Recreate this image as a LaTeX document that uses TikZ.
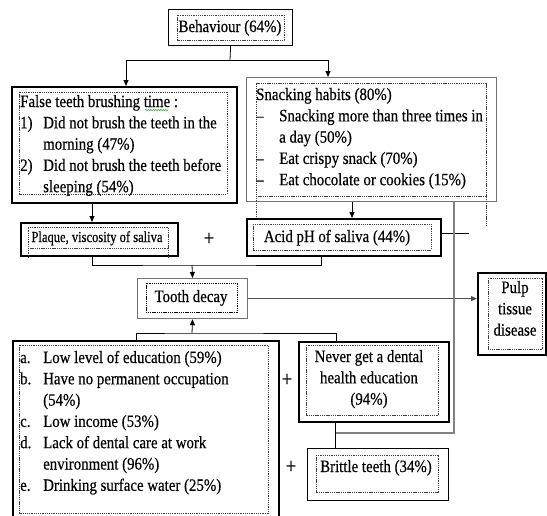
\documentclass[tikz,border=0pt]{standalone}
\usepackage{fontspec}
\setmainfont{Liberation Serif}[FakeStretch=0.86,FakeBold=0.4]
\newfontfamily\plqfont{Liberation Serif}[FakeStretch=0.82,FakeBold=0.4]
\usetikzlibrary{arrows.meta,decorations.pathmorphing}
\begin{document}
\begin{tikzpicture}[x=1pt,y=-1pt,
  obox/.style={draw=black, line width=1.5pt, inner sep=0pt, anchor=north west},
  gbox/.style={draw=black!55, line width=1.2pt, inner sep=0pt, anchor=north west},
  ibox/.style={draw=black!75, line width=0.6pt, dash pattern=on 1.3pt off 0.9pt},
  txt/.style={anchor=base west, inner sep=0pt, font=\fontsize{17.3}{21.3}\selectfont},
  ctxt/.style={anchor=base, inner sep=0pt, align=center, font=\fontsize{17.3}{21.3}\selectfont},
  plus/.style={inner sep=0pt, font=\fontsize{22}{22}\selectfont},
  conn/.style={draw=black, line width=0.8pt},
  gconn/.style={draw=black!50, line width=1.1pt},
  arr/.style={conn, -{Triangle[length=6pt,width=5pt]}},
]
\useasboundingbox (0,0) rectangle (547,515);
\fill[white] (0,0) rectangle (547,515);

% ---------- boxes ----------
\node[obox, line width=1.2pt, minimum width=124pt, minimum height=36pt] (beh) at (168,9) {};
\draw[ibox] (177,15) rectangle (284,40);
\node[ctxt] (beht) at (230,32) {Behaviour (64\%)};

\node[obox, minimum width=225pt, minimum height=116pt] (ftb) at (11,86) {};
\draw[ibox] (19,92) rectangle (227,194);
\node[txt] (ftbt) at (20,107) {\begin{tabular}[t]{@{}l@{}l@{}}
\multicolumn{2}{@{}l@{}}{False teeth brushing time :}\\
\makebox[23pt][l]{1)} & Did not brush the teeth in the\\
 & morning (47\%)\\
\makebox[23pt][l]{2)} & Did not brush the teeth before\\
 & sleeping (54\%)
\end{tabular}};

\node[gbox, minimum width=250pt, minimum height=124pt] (snk) at (246,77) {};
\draw[ibox] (256,217) -- (256,83) -- (486,83) -- (486,227);
\draw[ibox] (256,196) -- (486,196);
\node[txt] (snkt) at (256,100) {\begin{tabular}[t]{@{}l@{}l@{}}
\multicolumn{2}{@{}l@{}}{Snacking habits (80\%)}\\
\makebox[23pt][l]{--} & Snacking more than three times in\\
 & a day (50\%)\\
\makebox[23pt][l]{--} & Eat crispy snack (70\%)\\
\makebox[23pt][l]{--} & Eat chocolate or cookies (15\%)
\end{tabular}};

\node[obox, minimum width=157pt, minimum height=33pt] (plq) at (20,222) {};
\draw[ibox] (28,258) -- (28,227) -- (168,227) -- (168,258);
\draw[ibox] (28,248) -- (168,248);
\node[anchor=base, inner sep=0pt, font=\plqfont\fontsize{15.3}{16}\selectfont] (plqt) at (97,242) {Plaque, viscosity of saliva};

\node[plus] (p1) at (209,239) {+};

\node[obox, minimum width=194pt, minimum height=37pt] (acid) at (246,218) {};
\draw[ibox] (253,224) rectangle (431,250);
\node[ctxt] (acidt) at (337,242) {Acid pH of saliva (44\%)};

\node[gbox, minimum width=110pt, minimum height=40pt] (tooth) at (137,278) {};
\draw[ibox, draw=black, line width=0.8pt] (146,283) rectangle (237,312);
\node[ctxt] (tootht) at (191,302) {Tooth decay};

\node[obox, minimum width=68pt, minimum height=82pt] (pulp) at (477,272) {};
\draw[ibox] (488,278) rectangle (542,349);
\node[ctxt] (pulpt) at (515,293) {\begin{tabular}[t]{@{}c@{}}Pulp\\ tissue\\ disease\end{tabular}};

\node[obox, minimum width=266pt, minimum height=180pt] (soc) at (12,340) {};
\draw[ibox] (19,345) rectangle (268,513);
\node[txt] (soct) at (20,363) {\begin{tabular}[t]{@{}l@{}l@{}}
\makebox[23pt][l]{a.} & Low level of education (59\%)\\
\makebox[23pt][l]{b.} & Have no permanent occupation\\
 & (54\%)\\
\makebox[23pt][l]{c.} & Low income (53\%)\\
\makebox[23pt][l]{d.} & Lack of dental care at work\\
 & environment (96\%)\\
\makebox[23pt][l]{e.} & Drinking surface water (25\%)
\end{tabular}};

\node[plus] (p2) at (287,380) {+};

\node[obox, minimum width=150pt, minimum height=80pt] (nev) at (298,341) {};
\draw[ibox] (306,345) rectangle (438,415);
\node[ctxt] (nevt) at (369,362) {\begin{tabular}[t]{@{}c@{}}Never get a dental\\ health education\\ (94\%)\end{tabular}};

\node[plus] (p3) at (291,467) {+};

\node[obox, line width=1.3pt, minimum width=141pt, minimum height=52pt] (brt) at (307,448) {};
\draw[ibox] (316,455) rectangle (438,492);
\node[txt] (brtt) at (320,472) {Brittle teeth (34\%)};

% spelling underline
\draw[green!60!black, line width=0.5pt, decorate, decoration={snake, amplitude=0.6pt, segment length=2.5pt}] (145,110) -- (168,110);

% ---------- connectors ----------
\coordinate (hub) at (230,60);
\draw[conn] (beh.south) -- (hub);
\draw[arr] (hub) -| ([xshift=115pt]ftb.north west);
\draw[arr] (hub) -| ([xshift=82pt]snk.north west);

\draw[arr] ([xshift=81pt]ftb.south west) -- ([xshift=72pt]plq.north west);
\draw[arr] ([xshift=106pt]snk.south west) -- ([xshift=106pt]acid.north west);

\coordinate (jn) at (192,265);
\draw[conn] ([xshift=72pt]plq.south west) |- (jn) -| ([xshift=75pt]acid.south west);
\draw[arr] (jn) -- (tooth.north);

\draw[arr, draw=black!70] (tooth.east) -- (tooth.east -| pulp.west);

\coordinate (acidend) at (469,233);
\draw[conn, line width=1pt] (acid.east |- acidend) -- (acidend);

\coordinate (jb) at (192,333);
\draw[arr] (jb) -- (tooth.south);
\draw[conn] ([xshift=124pt]soc.north west) |- (jb) -| ([xshift=38pt]nev.north west);

\coordinate (nb) at (335,433);
\draw[gconn] ([xshift=208pt]snk.south west) |- (nb);
\draw[conn, line width=1pt] ([xshift=37pt]nev.south west) -- ([xshift=28pt]brt.north west);
\end{tikzpicture}
\end{document}
